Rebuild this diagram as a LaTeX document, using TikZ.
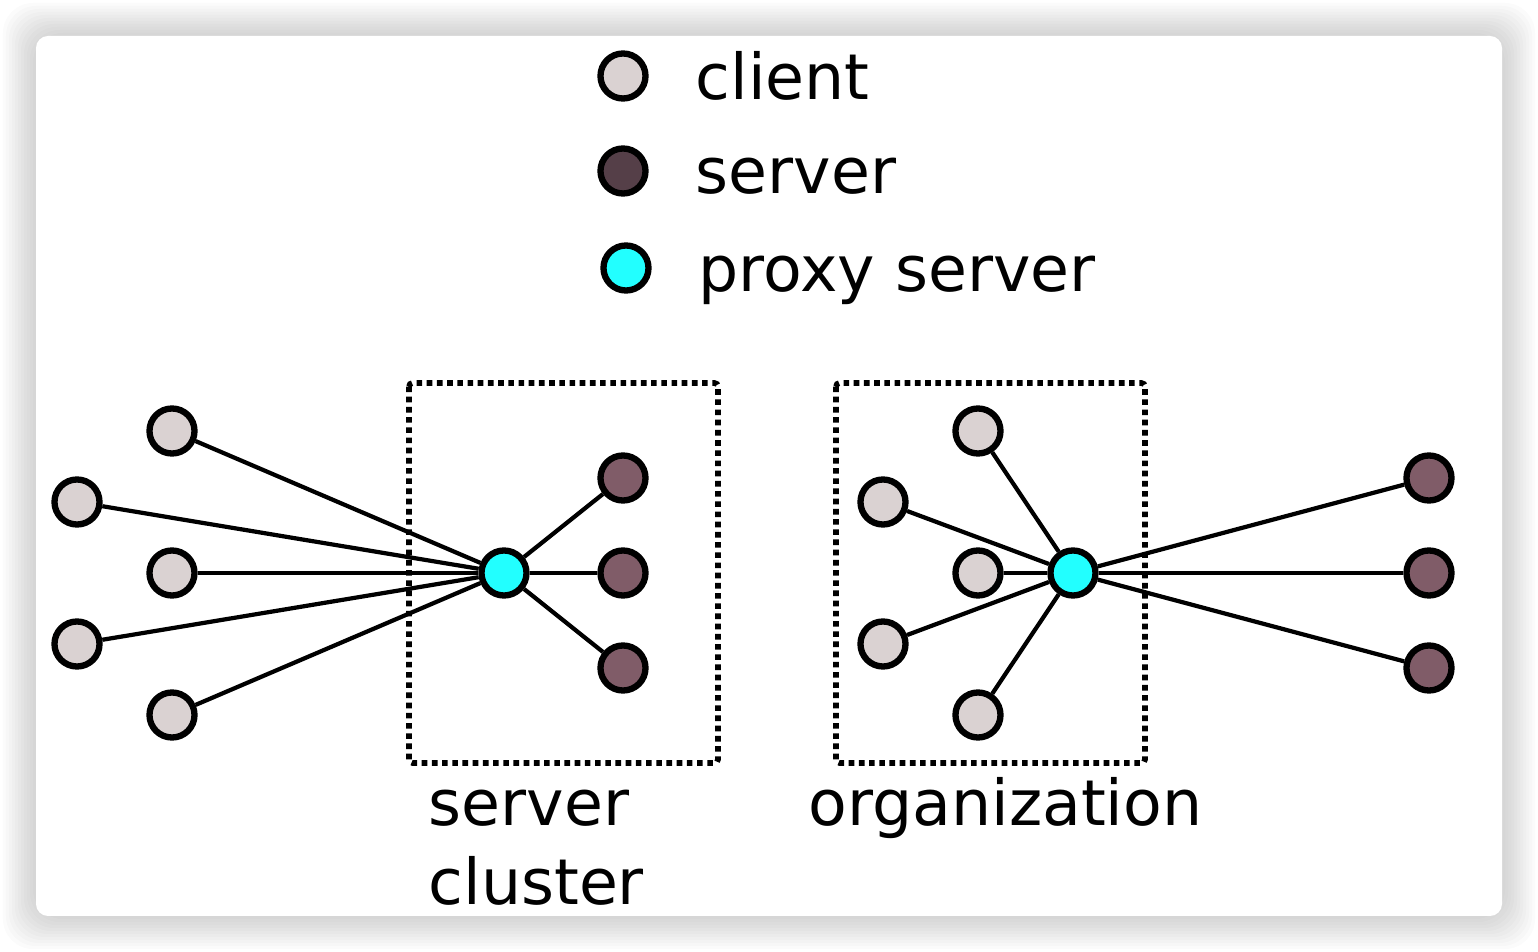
\documentclass[tikz,border=0pt]{standalone}
\usepackage{fontspec}
\setmainfont{DejaVu Sans}
\definecolor{clientgray}{RGB}{218,210,210}
\definecolor{serverdark}{RGB}{85,63,72}
\definecolor{servermauve}{RGB}{128,92,104}
\definecolor{proxycyan}{RGB}{34,255,255}
\begin{document}
\begin{tikzpicture}[x=0.01cm,y=-0.01cm,
    host/.style={circle,draw=black,line width=1.8pt,minimum size=0.45cm,inner sep=0pt},
    client/.style={host,fill=clientgray},
    server/.style={host,fill=servermauve},
    legendserver/.style={host,fill=serverdark},
    proxy/.style={host,fill=proxycyan},
    legendtext/.style={anchor=base west,inner sep=0pt,font=\fontsize{18}{22.5}\selectfont},
    dotbox/.style={line width=1.6pt,dash pattern=on 1.6pt off 1.3pt,rounded corners=1pt}]
  \useasboundingbox (0,0) rectangle (1538,952);
  % card with soft shadow
  \foreach \d in {3,6,...,33}
    \fill[black,opacity=0.014,rounded corners=0.3cm] (36-\d,36-\d) rectangle (1502+\d,916+\d);
  \fill[white,rounded corners=0.12cm] (36,36) rectangle (1502,916);
  % legend
  \draw
    (623,76) node[client] (lc){}
    (623,171) node[legendserver] (ls){}
    (626,268) node[proxy] (lp){};
  \node[legendtext] (lctext) at (695,100) {client};
  \node[legendtext] (lstext) at (695,194) {server};
  \node[legendtext] (lptext) at (698,292) {proxy server};
  % server cluster
  \draw[dotbox] (409,383) rectangle (718,763);
  \draw
    (504,573) node[proxy] (p1){}
    (172,431) node[client] (a1){}
    (77,502) node[client] (a2){}
    (172,573) node[client] (a3){}
    (77,644) node[client] (a4){}
    (172,715) node[client] (a5){}
    (623,478) node[server] (s1){}
    (623,573) node[server] (s2){}
    (623,668) node[server] (s3){};
  \node[legendtext,align=left] (cluster) at (428,905) {server\\cluster};
  % organization
  \draw[dotbox] (836,383) rectangle (1145,763);
  \draw
    (1073,573) node[proxy] (p2){}
    (978,431) node[client] (b1){}
    (883,502) node[client] (b2){}
    (978,573) node[client] (b3){}
    (883,644) node[client] (b4){}
    (978,715) node[client] (b5){}
    (1429,478) node[server] (t1){}
    (1429,573) node[server] (t2){}
    (1429,668) node[server] (t3){};
  \node[legendtext] (org) at (808,826) {organization};
  \begin{scope}[-,line width=1.2pt]
    \draw (a1) to (p1);
    \draw (a2) to (p1);
    \draw (a3) to (p1);
    \draw (a4) to (p1);
    \draw (a5) to (p1);
    \draw (p1) to (s1);
    \draw (p1) to (s2);
    \draw (p1) to (s3);
    \draw (b1) to (p2);
    \draw (b2) to (p2);
    \draw (b3) to (p2);
    \draw (b4) to (p2);
    \draw (b5) to (p2);
    \draw (p2) to (t1);
    \draw (p2) to (t2);
    \draw (p2) to (t3);
  \end{scope}
\end{tikzpicture}
\end{document}
